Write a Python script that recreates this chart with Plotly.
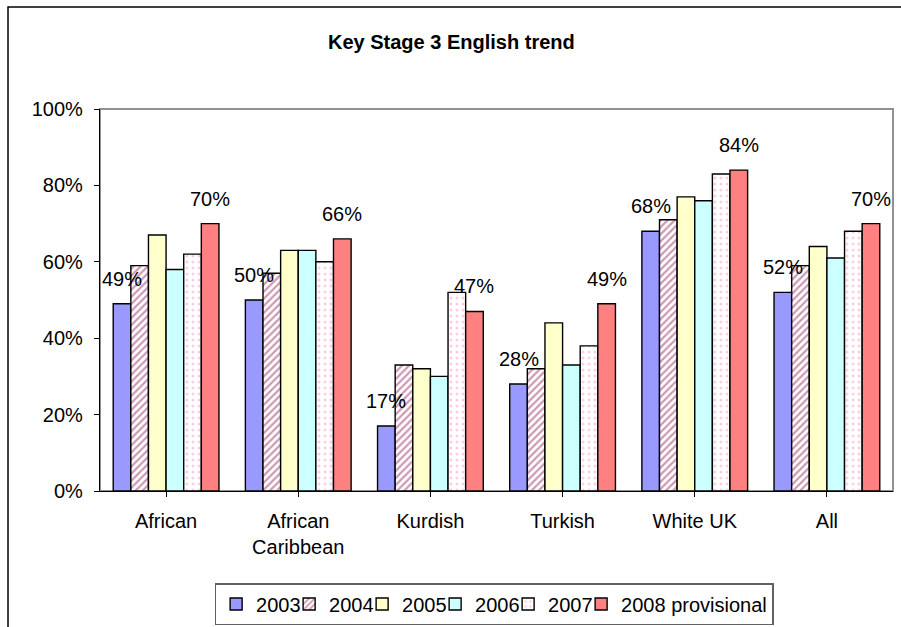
import plotly.graph_objects as go

categories = ["African", "African<br>Caribbean", "Kurdish", "Turkish", "White UK", "All"]
years = ["2003", "2004", "2005", "2006", "2007", "2008 provisional"]

v2003 = [49, 50, 17, 28, 68, 52]
v2004 = [59, 57, 33, 32, 71, 59]
v2005 = [67, 63, 32, 44, 77, 64]
v2006 = [58, 63, 30, 33, 76, 61]
v2007 = [62, 60, 52, 38, 83, 68]
v2008 = [70, 66, 47, 49, 84, 70]
series = [v2003, v2004, v2005, v2006, v2007, v2008]

fills = ["#9999FF", "#FFFFFF", "#FFFFCC", "#CCFFFF", "#FFFFFF", "#FF8080"]
patterns = [
    None,
    dict(shape="/", fgcolor="#993366", bgcolor="#FFFFFF", size=5, solidity=0.45),
    None,
    None,
    dict(shape=".", fgcolor="#FF99CC", bgcolor="#FFFFFF", size=6, solidity=0.2),
    None,
]
labelled = [True, False, False, False, False, True]
# legend entry widths (px) so entries sit close together
entry_widths = [28, 28, 28, 28, 28, 146]

BARGAP = 0.2
FONT = "Liberation Sans, Arial, sans-serif"
FS = 20

fig = go.Figure()
for name, vals, fill, pat, lw in zip(years, series, fills, patterns, entry_widths):
    marker = dict(color=fill, line=dict(color="#000000", width=1.4))
    if pat is not None:
        marker["pattern"] = pat
    fig.add_trace(go.Bar(
        name=name,
        x=list(range(len(categories))),
        y=[v / 100 for v in vals],
        marker=marker,
        legendwidth=lw,
    ))

# value labels above the first and last year of each group
n = len(series)
slot = (1 - BARGAP) / n
annotations = []
for i, (vals, show) in enumerate(zip(series, labelled)):
    if not show:
        continue
    for c, v in enumerate(vals):
        xc = c - (1 - BARGAP) / 2 + (i + 0.5) * slot
        annotations.append(dict(
            x=xc, y=v / 100, xref="x", yref="y",
            text=f"{v}%", showarrow=False,
            yshift=25, yanchor="middle", xanchor="center",
            font=dict(family=FONT, size=FS, color="#000000"),
        ))

annotations.append(dict(
    text="<b>Key Stage 3 English trend</b>",
    xref="paper", yref="paper", x=0.443, y=1.175,
    xanchor="center", yanchor="middle", showarrow=False,
    font=dict(family=FONT, size=FS, color="#000000"),
))

shapes = [
    # outer chart frame
    dict(type="rect", xref="paper", yref="paper",
         x0=-0.116, y0=-0.6, x1=1.3, y1=1.267,
         line=dict(color="#000000", width=1.5), layer="below"),
    # plot area frame
    dict(type="rect", xref="paper", yref="paper",
         x0=0, y0=0, x1=1, y1=1,
         line=dict(color="#909090", width=2), layer="below"),
]

fig.update_layout(
    width=901, height=627,
    margin=dict(l=100, r=8, t=109, b=136, autoexpand=False),
    paper_bgcolor="#FFFFFF", plot_bgcolor="#FFFFFF",
    barmode="group", bargap=BARGAP, bargroupgap=0,
    font=dict(family=FONT, size=FS, color="#000000"),
    showlegend=True,
    legend=dict(
        orientation="h", x=0.497, y=-0.296, xanchor="center", yanchor="middle",
        bordercolor="#606060", borderwidth=1.5, bgcolor="#FFFFFF",
        font=dict(family=FONT, size=FS), itemwidth=30, tracegroupgap=0,
    ),
    annotations=annotations,
    shapes=shapes,
)

fig.update_xaxes(
    tickmode="array", tickvals=list(range(len(categories))), ticktext=categories,
    range=[-0.5, len(categories) - 0.5],
    tickson="boundaries", ticks="outside", ticklen=5, tickcolor="#000000",
    ticklabelstandoff=7,
    showline=True, linecolor="#000000", linewidth=1.3,
    showgrid=False, zeroline=False,
    tickfont=dict(family=FONT, size=FS),
)
fig.update_yaxes(
    range=[0, 1], tickvals=[0, 0.2, 0.4, 0.6, 0.8, 1.0], tickformat=".0%",
    ticks="outside", ticklen=5, tickcolor="#000000",
    ticklabelstandoff=7,
    showline=True, linecolor="#000000", linewidth=1.3,
    showgrid=False, zeroline=False,
    tickfont=dict(family=FONT, size=FS),
)

fig.write_html("out.html")
